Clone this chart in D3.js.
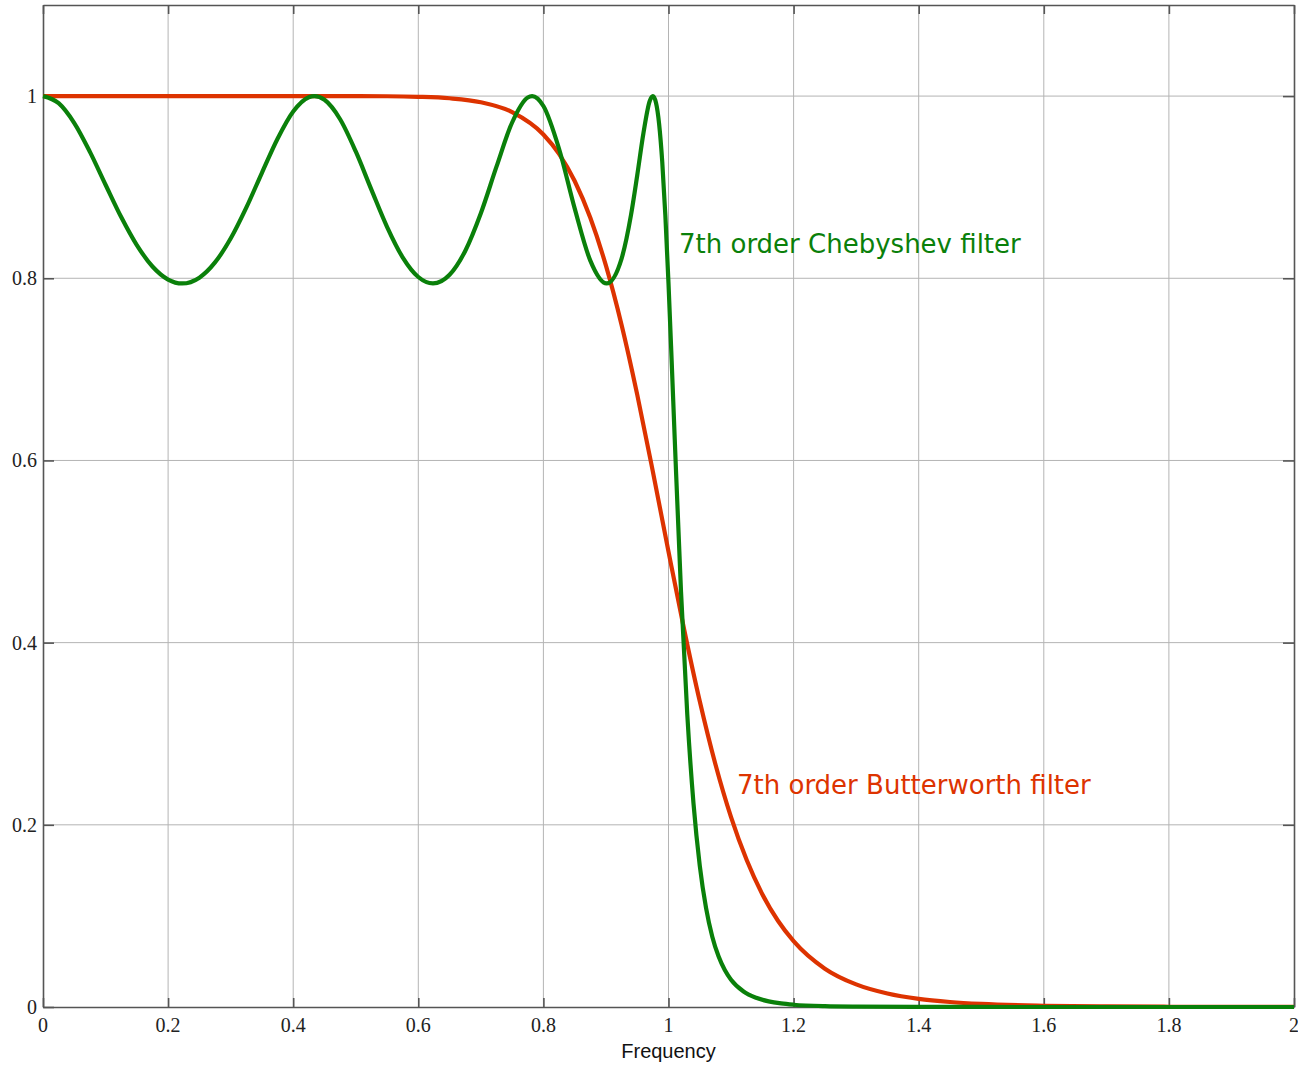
<!DOCTYPE html>
<html>
<head>
<meta charset="utf-8">
<script src="https://cdn.jsdelivr.net/npm/d3@7"></script>
<style>
  body { margin: 0; background: #fff; }
  .grid line { stroke: #b4b4b4; stroke-width: 1; }
</style>
</head>
<body>
<script>
// Chebyshev (7th order) power gain
const chebFreq = [0, 0.025, 0.05, 0.075, 0.1, 0.125, 0.15, 0.175, 0.2, 0.2225, 0.25, 0.275, 0.3, 0.325,
  0.35, 0.375, 0.4, 0.425, 0.434, 0.45, 0.475, 0.5, 0.525, 0.55, 0.575, 0.6, 0.6235, 0.65, 0.675, 0.7,
  0.725, 0.75, 0.775, 0.782, 0.8, 0.825, 0.85, 0.875, 0.901, 0.925, 0.94, 0.95, 0.96, 0.97, 0.975, 0.98,
  0.985, 0.99, 0.995, 1.0, 1.005, 1.01, 1.02, 1.03, 1.04, 1.05, 1.06, 1.07, 1.08, 1.09, 1.1, 1.12, 1.14,
  1.16, 1.18, 1.2, 1.25, 1.3, 1.4, 1.6, 2.0];
const chebGain = [1, 0.9922, 0.9704, 0.9388, 0.9027, 0.8672, 0.8364, 0.8129, 0.7986, 0.7943, 0.8007, 0.8174, 0.8436, 0.8775,
  0.9158, 0.9532, 0.9831, 0.9988, 1, 0.9959, 0.9746, 0.9392, 0.8973, 0.8565, 0.8230, 0.8014, 0.7943, 0.8038, 0.8300, 0.8714,
  0.9225, 0.9710, 0.9985, 1, 0.9891, 0.9422, 0.8767, 0.8194, 0.7943, 0.8216, 0.8693, 0.9130, 0.9596, 0.9947, 1, 0.9928,
  0.9694, 0.9278, 0.8685, 0.7943, 0.7102, 0.6230, 0.4560, 0.3214, 0.2231, 0.1551, 0.1087, 0.0772, 0.0556, 0.0406, 0.0300, 0.0170, 0.0101,
  0.0062, 0.0039, 0.0025, 0.0009, 0.0004, 0.0001, 0, 0];

// Butterworth (7th order) power gain
const butterFreq = [0, 0.25, 0.4, 0.5, 0.55, 0.6, 0.65, 0.7, 0.75, 0.8, 0.825, 0.85, 0.875, 0.9, 0.925, 0.95, 0.975,
  1.0, 1.025, 1.05, 1.075, 1.1, 1.125, 1.15, 1.175, 1.2, 1.25, 1.3, 1.35, 1.4, 1.45, 1.5, 1.6, 1.7, 1.8, 1.9, 2.0];
const butterGain = [1, 1, 1, 0.9999, 0.9998, 0.9992, 0.9976, 0.9933, 0.9825, 0.9579, 0.9366, 0.9068, 0.8664, 0.8138, 0.7487, 0.6722, 0.5877,
  0.5, 0.4144, 0.3356, 0.2665, 0.2084, 0.1613, 0.1238, 0.0947, 0.0723, 0.0421, 0.0248, 0.0148, 0.0089, 0.0055, 0.0034, 0.0014, 0.0006, 0.0003, 0.0001, 0.0001];

const xTicks = [0, 0.2, 0.4, 0.6, 0.8, 1, 1.2, 1.4, 1.6, 1.8, 2];
const yTicks = [0, 0.2, 0.4, 0.6, 0.8, 1];

const width = 1298, height = 1065;
const plot = {left: 43, right: 1294, top: 5, bottom: 1007};

const svg = d3.select("body").append("svg")
    .attr("width", width)
    .attr("height", height);

const x = d3.scaleLinear().domain([0, 2]).range([plot.left, plot.right]);
const y = d3.scaleLinear().domain([0, 1.1]).range([plot.bottom, plot.top]);

// Grid lines
const grid = svg.append("g").attr("class", "grid");
grid.selectAll(".gx").data(xTicks.slice(1, -1)).enter().append("line")
    .attr("x1", d => x(d)).attr("x2", d => x(d))
    .attr("y1", plot.top).attr("y2", plot.bottom);
grid.selectAll(".gy").data(yTicks.slice(1)).enter().append("line")
    .attr("x1", plot.left).attr("x2", plot.right)
    .attr("y1", d => y(d)).attr("y2", d => y(d));

// Frame with inward ticks on all four sides
svg.append("g").attr("transform", "translate(0," + plot.bottom + ")")
    .call(d3.axisBottom(x).tickValues(xTicks).tickSizeInner(-9).tickSizeOuter(0).tickFormat(""));
svg.append("g").attr("transform", "translate(0," + plot.top + ")")
    .call(d3.axisTop(x).tickValues(xTicks).tickSizeInner(-9).tickSizeOuter(0).tickFormat(""));
svg.append("g").attr("transform", "translate(" + plot.left + ",0)")
    .call(d3.axisLeft(y).tickValues(yTicks).tickSizeInner(-11).tickSizeOuter(0).tickFormat(""));
svg.append("g").attr("transform", "translate(" + plot.right + ",0)")
    .call(d3.axisRight(y).tickValues(yTicks).tickSizeInner(-11).tickSizeOuter(0).tickFormat(""));
svg.selectAll(".domain").attr("stroke", "#555").attr("stroke-width", 1.6);
svg.selectAll(".tick line").attr("stroke", "#555").attr("stroke-width", 1.6);

// Tick labels (serif, like the original)
svg.selectAll(".xl").data(xTicks).enter().append("text")
    .attr("x", d => x(d)).attr("y", plot.bottom + 25)
    .attr("text-anchor", "middle")
    .style("font-family", "'Liberation Serif', 'Times New Roman', serif")
    .style("font-size", "20px")
    .style("fill", "#222")
    .text(d => d);
svg.selectAll(".yl").data(yTicks).enter().append("text")
    .attr("x", plot.left - 6).attr("y", d => y(d) + 7)
    .attr("text-anchor", "end")
    .style("font-family", "'Liberation Serif', 'Times New Roman', serif")
    .style("font-size", "20px")
    .style("fill", "#222")
    .text(d => d);

svg.append("text")
    .attr("x", x(1)).attr("y", 1058)
    .attr("text-anchor", "middle")
    .style("font-family", "'Liberation Sans', Arial, sans-serif")
    .style("font-size", "20px")
    .style("fill", "#111")
    .text("Frequency");

// Curves
const line = d3.line()
    .x(d => x(d[0]))
    .y(d => y(d[1]))
    .curve(d3.curveMonotoneX);

svg.append("path")
    .datum(d3.zip(butterFreq, butterGain))
    .attr("fill", "none")
    .attr("stroke", "#dd3300")
    .attr("stroke-width", 4.2)
    .attr("d", line);

svg.append("path")
    .datum(d3.zip(chebFreq, chebGain))
    .attr("fill", "none")
    .attr("stroke", "#0a800a")
    .attr("stroke-width", 4.2)
    .attr("d", line);

// Curve labels
svg.append("text")
    .attr("x", 679).attr("y", 253)
    .style("font-family", "'DejaVu Sans', Verdana, sans-serif")
    .style("font-size", "26px")
    .style("fill", "#0a800a")
    .text("7th order Chebyshev filter");

svg.append("text")
    .attr("x", 737).attr("y", 794)
    .style("font-family", "'DejaVu Sans', Verdana, sans-serif")
    .style("font-size", "26px")
    .style("fill", "#dd3300")
    .text("7th order Butterworth filter");
</script>
</body>
</html>
